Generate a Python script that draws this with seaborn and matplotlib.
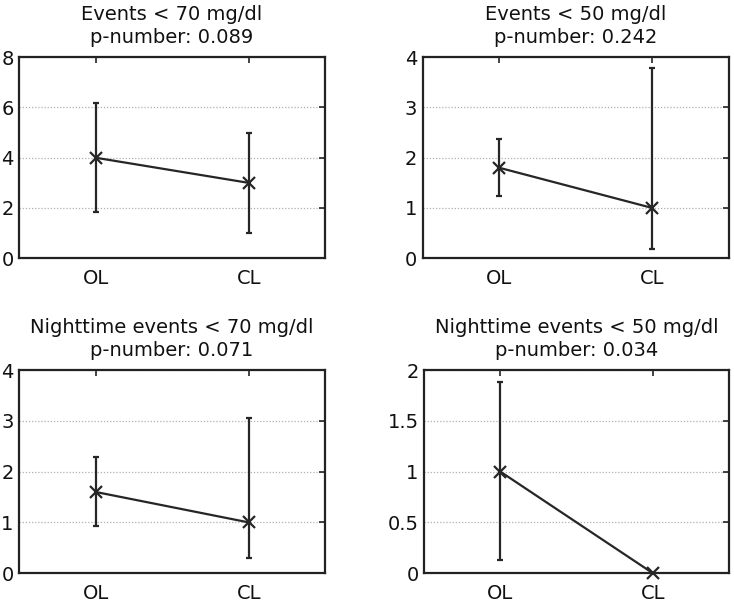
import pandas as pd
import matplotlib
matplotlib.use('Agg')
import matplotlib.pyplot as plt
import seaborn as sns

sns.set_style('white')
plt.rcParams['font.family'] = ['DejaVu Sans']

groups = ['OL', 'CL']
titles = ['Events < 70 mg/dl\np-number: 0.089',
          'Events < 50 mg/dl\np-number: 0.242',
          'Nighttime events < 70 mg/dl\np-number: 0.071',
          'Nighttime events < 50 mg/dl\np-number: 0.034']
means = [[4.0, 3.0], [1.8, 1.0], [1.6, 1.0], [1.0, 0.0]]
lows = [[1.85, 1.02], [1.245, 0.19], [0.92, 0.29], [0.13, 0.0]]
highs = [[6.17, 5.0], [2.37, 3.78], [2.29, 3.06], [1.88, 0.0]]
ylims = [8, 4, 4, 2]
yticks = [[0, 2, 4, 6, 8], [0, 1, 2, 3, 4], [0, 1, 2, 3, 4], [0, 0.5, 1, 1.5, 2]]
yticklabels = [['0', '2', '4', '6', '8'], ['0', '1', '2', '3', '4'],
               ['0', '1', '2', '3', '4'], ['0', '0.5', '1', '1.5', '2']]

fig = plt.figure(figsize=(7.34, 6.02), dpi=100)
boxes = [[0.026, 0.571, 0.417, 0.334], [0.576, 0.571, 0.417, 0.334],
         [0.026, 0.048, 0.417, 0.337], [0.578, 0.048, 0.415, 0.337]]
col = '#262626'

for i in range(4):
    ax = fig.add_axes(boxes[i])
    df = pd.DataFrame({'pos': [0, 1], 'mean': means[i]})
    # error bars first, then line with x markers
    yerr = [[m - l for m, l in zip(means[i], lows[i])],
            [h - m for m, h in zip(means[i], highs[i])]]
    ax.errorbar(df['pos'], df['mean'], yerr=yerr, fmt='none', ecolor=col,
                elinewidth=1.6, capsize=2.5, capthick=1.6, zorder=3)
    sns.lineplot(data=df, x='pos', y='mean', ax=ax, color=col, linewidth=1.6,
                 marker='x', markersize=8, markeredgewidth=1.6,
                 markeredgecolor=col, zorder=4, clip_on=False)
    ax.set_xlim(-0.5, 1.5)
    ax.set_ylim(0, ylims[i])
    ax.set_xticks([0, 1])
    ax.set_xticklabels(groups)
    ax.set_yticks(yticks[i])
    ax.set_yticklabels(yticklabels[i])
    ax.set_xlabel('')
    ax.set_ylabel('')
    ax.set_title(titles[i], fontsize=14, pad=10, linespacing=1.3, color='#111111')
    ax.yaxis.grid(True, linestyle=(0, (1, 1.5)), color='#b0b0b0', linewidth=0.9)
    ax.set_axisbelow(True)
    ax.tick_params(direction='in', length=4, width=1.2, labelsize=14,
                   top=True, right=True, colors='#222222', labelcolor='#111111', pad=4)
    ax.tick_params(axis='x', pad=8)
    for s in ax.spines.values():
        s.set_linewidth(1.6)
        s.set_color('#222222')
        s.set_visible(True)

plt.savefig('out.png', dpi=100)
